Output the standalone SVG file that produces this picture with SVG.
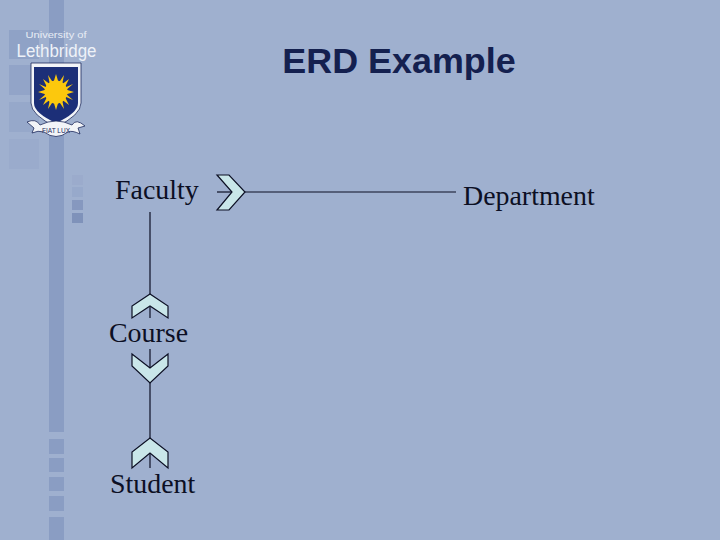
<svg xmlns="http://www.w3.org/2000/svg" width="720" height="540" viewBox="0 0 720 540">
<style>
.t{font-family:"Liberation Serif",serif;font-size:27.9px;fill:#0c0f24}
.c{fill:#c9e6e9;stroke:#0c0f24;stroke-width:1.2;stroke-linejoin:miter}
.l{fill:none;stroke:#0c0f24;stroke-width:1.2}
.b{fill:#8a9dc3}
</style>
<rect width="720" height="540" fill="#9fb0cf"/>
<g id="background">
<rect class="b" x="49" y="0" width="15" height="432"/>
<rect class="b" x="49" y="439" width="15" height="15"/>
<rect class="b" x="49" y="458" width="15" height="14"/>
<rect class="b" x="49" y="477" width="15" height="14"/>
<rect class="b" x="49" y="496" width="15" height="15"/>
<rect class="b" x="49" y="517" width="15" height="23"/>
<rect x="9" y="30" width="30" height="29" fill="#8a9dc3" opacity=".75"/>
<rect x="9" y="65" width="30" height="30" fill="#8a9dc3" opacity=".6"/>
<rect x="9" y="102" width="30" height="30" fill="#8a9dc3" opacity=".4"/>
<rect x="9" y="139" width="30" height="30" fill="#8a9dc3" opacity=".25"/>
<rect x="72" y="175" width="11" height="10" fill="#8a9dc3" opacity=".2"/>
<rect x="72" y="187" width="11" height="10" fill="#8a9dc3" opacity=".35"/>
<rect x="72" y="200" width="11" height="10" fill="#7f92ba" opacity=".8"/>
<rect x="72" y="213" width="11" height="10" fill="#7f92ba"/>
</g>
<g id="logo">
<text x="56" y="38" text-anchor="middle" font-family="Liberation Sans,sans-serif" font-size="9.5" fill="#e8edf5" textLength="61" lengthAdjust="spacingAndGlyphs">University of</text>
<text x="56.500" y="57" text-anchor="middle" font-family="Liberation Sans,sans-serif" font-size="18" fill="#eef2f8" textLength="80" lengthAdjust="spacingAndGlyphs">Lethbridge</text>
<path d="M31 63H81V103Q81 115 56 127Q31 115 31 103Z" fill="#f2f4f8" stroke="#1d2a5c" stroke-width=".8"/>
<path d="M34 67H78V103Q78 113 56 123Q34 113 34 103Z" fill="#1c2f78"/>
<g fill="#fcc80d">
<circle cx="56" cy="92" r="11.5"/>
<path d="M56 74L59 84H53ZM56 110L59 100H53ZM38 92L48 89V95ZM74 92L64 89V95ZM43 79L51 85L47 87ZM69 79L61 85L65 87ZM43 105L51 99L47 97ZM69 105L61 99L65 97ZM48 75L54 84L50 85ZM64 75L58 84L62 85ZM48 109L54 100L50 99ZM64 109L58 100L62 99ZM39 84L48 88L47 91ZM73 84L64 88L65 91ZM39 100L48 96L47 93ZM73 100L64 96L65 93Z"/>
</g>
<path d="M27 122Q36 118 40 125Q56 117 72 125Q76 118 85 126L78 128L80 134Q72 130 68 132Q56 141 44 132Q38 130 32 133L34 128Z" fill="#f2f4f8" stroke="#1d2a5c" stroke-width=".8"/>
<text x="56" y="133" text-anchor="middle" font-family="Liberation Sans,sans-serif" font-size="6.500" fill="#1d2a5c">FIAT LUX</text>
</g>
<g id="connectors">
<path class="l" d="M217 192H232"/>
<path class="l" d="M245 192H456"/>
<path class="l" d="M150 212V296"/>
<path class="l" d="M150 307V318"/>
<path class="l" d="M150 349V368"/>
<path class="l" d="M150 383V439"/>
<path class="l" d="M150 453V468"/>
</g>
<g id="crow-faculty"><path class="c" d="M217 175H229L245 192L229 210H217L232 192Z"/></g>
<g id="crow-course-top"><path class="c" d="M132 318V306L150 294L168 306V318L150 306Z"/></g>
<g id="crow-course-bottom"><path class="c" d="M132 354L150 368L168 354V366L150 383L132 366Z"/></g>
<g id="crow-student"><path class="c" d="M132 468V452L150 438L168 452V468L150 453Z"/></g>
<g id="faculty"><text class="t" x="115" y="199">Faculty</text></g>
<g id="department"><text class="t" x="463" y="205">Department</text></g>
<g id="course"><text class="t" x="109" y="342">Course</text></g>
<g id="student"><text class="t" x="110" y="493">Student</text></g>
<g id="title"><text x="399" y="73" text-anchor="middle" font-family="Liberation Sans,sans-serif" font-weight="700" font-size="35.900" fill="#14204f">ERD Example</text></g>
</svg>
